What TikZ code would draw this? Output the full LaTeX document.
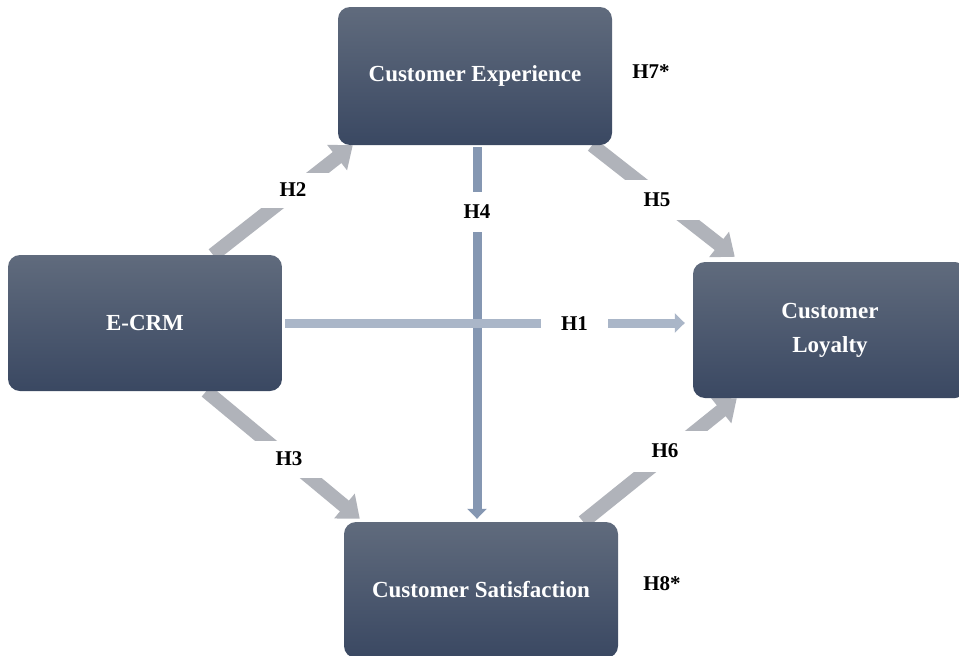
\documentclass[tikz,border=0pt]{standalone}
\usepackage{fontspec}
\setmainfont{Liberation Serif}
\usetikzlibrary{arrows.meta,calc}
\definecolor{boxtop}{RGB}{96,107,125}
\definecolor{boxbot}{RGB}{58,72,98}
\definecolor{greyarrow}{RGB}{176,179,186}
\definecolor{hlarrow}{RGB}{170,182,200}
\definecolor{vlarrow}{RGB}{133,151,178}
\begin{document}
\begin{tikzpicture}[x=1pt,y=-1pt,
  construct/.style={rounded corners=12pt, top color=boxtop, bottom color=boxbot,
    draw=none, text=white, font=\bfseries\fontsize{23}{34}\selectfont,
    minimum width=274pt, minimum height=136pt, align=center, inner sep=0pt},
  hyp/.style={fill=white, font=\bfseries\fontsize{21}{24}\selectfont, inner sep=0pt},
  note/.style={font=\bfseries\fontsize{21}{24}\selectfont, inner sep=0pt},
  diagarrow/.style={draw=greyarrow, line width=14pt, -{Triangle[width=31pt,length=20pt]}},
  harrow/.style={draw=hlarrow, line width=9pt, -{Triangle[width=19pt,length=10pt]}},
  varrow/.style={draw=vlarrow, line width=9pt, -{Triangle[width=19pt,length=10pt]}}
]
\useasboundingbox (0,0) rectangle (959,656);
\fill[white] (0,0) rectangle (959,656);

% construct positions (boxes drawn last, on top of the connectors)
\path (475,76) node[construct, minimum height=138pt, opacity=0] (ce) {}
      (145,323) node[construct, opacity=0] (ecrm) {}
      (830,330) node[construct, opacity=0] (loy) {}
      (481,590) node[construct, opacity=0] (cs) {};

% connector end points
\coordinate (h2s) at ([xshift=68pt]ecrm.north);
\coordinate (h2e) at ([xshift=15pt]ce.south west);
\coordinate (h5s) at ([xshift=-20pt]ce.south east);
\coordinate (h5e) at ([xshift=42pt,yshift=5pt]loy.north west);
\coordinate (h3s) at ([xshift=-76pt]ecrm.south east);
\coordinate (h3e) at ([xshift=16pt,yshift=3pt]cs.north west);
\coordinate (h6s) at ([xshift=-35pt]cs.north east);
\coordinate (h6e) at ([xshift=44pt]loy.south west);
\coordinate (h1s) at ($(ecrm.east)+(3,0)$);
\coordinate (h1e) at ($(ecrm.east -| loy.west)+(-8,0)$);
\coordinate (h4s) at ($(ce.south)+(2,2)$);
\coordinate (h4e) at ($(cs.north)+(-4,-3)$);

% connectors
\draw[diagarrow] (h2s) -- (h2e);
\draw[diagarrow] (h5s) -- (h5e);
\draw[diagarrow] (h3s) -- (h3e);
\draw[diagarrow] (h6s) -- (h6e);
\draw[varrow] (h4s) -- (h4e);
\draw[harrow] (h1s) -- (h1e);

% hypothesis labels, breaking the connectors
\node[hyp, minimum width=74pt, minimum height=35pt] (lh2) at (293,190) {H2};
\node[hyp, minimum width=84pt, minimum height=40pt] (lh5) at (657,200) {H5};
\node[hyp, minimum width=76pt, minimum height=37pt] (lh3) at (289,459) {H3};
\node[hyp, minimum width=86pt, minimum height=41pt] (lh6) at (665,451) {H6};
\node[hyp, minimum width=67pt, minimum height=30pt] (lh1) at (574.5,324) {H1};
\node[hyp, minimum width=40pt, minimum height=40pt] (lh4) at (477,212) {H4};

% constructs
\node[construct, minimum height=138pt] at (ce) {Customer Experience};
\node[construct] at (ecrm) {E-CRM};
\node[construct] at (loy) {Customer\\Loyalty};
\node[construct] at (cs) {Customer Satisfaction};

% mediation hypotheses
\node[note] (h7) at (651,72) {H7*};
\node[note] (h8) at (662,584) {H8*};
\end{tikzpicture}
\end{document}
